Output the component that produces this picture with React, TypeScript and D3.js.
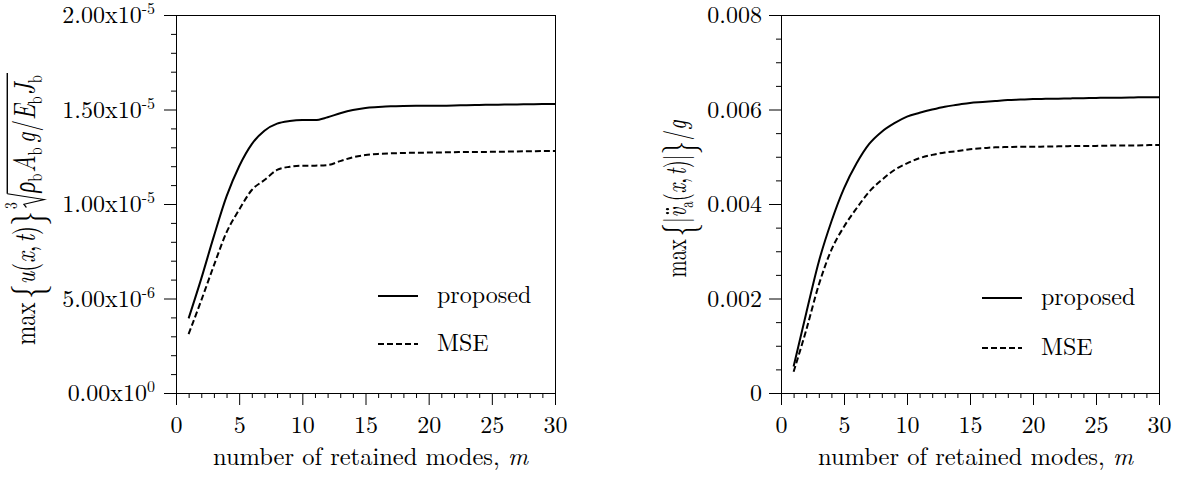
import React, { useRef, useEffect } from 'react';
import * as d3 from 'd3';

// number of retained modes
const modes = [1, 2, 3, 4, 5, 6, 7, 8, 9, 10, 11, 12, 13, 14, 15, 16, 17, 18, 19, 20, 21, 22, 23, 24, 25, 26, 27, 28, 29, 30];

// left panel: normalised max displacement, in units of 1e-6
const dispProposed = [3.95, 6.05, 8.3, 10.4, 12.0, 13.17, 13.88, 14.25, 14.39, 14.44, 14.44, 14.59, 14.8, 14.97, 15.08, 15.13, 15.17, 15.19, 15.2, 15.2, 15.2, 15.21, 15.23, 15.24, 15.25, 15.26, 15.27, 15.28, 15.29, 15.29];
const dispMSE = [3.12, 4.9, 6.75, 8.5, 9.7, 10.74, 11.27, 11.8, 11.97, 12.03, 12.03, 12.06, 12.27, 12.47, 12.59, 12.65, 12.68, 12.7, 12.71, 12.72, 12.73, 12.74, 12.75, 12.75, 12.76, 12.77, 12.78, 12.79, 12.8, 12.8];
const dispUnit = 1e-6;

// right panel: max acceleration / g, in units of 1e-3
const accProposed = [0.56, 1.69, 2.78, 3.63, 4.33, 4.86, 5.27, 5.53, 5.71, 5.85, 5.93, 6.0, 6.06, 6.1, 6.14, 6.16, 6.18, 6.2, 6.21, 6.22, 6.225, 6.23, 6.235, 6.24, 6.245, 6.25, 6.25, 6.255, 6.26, 6.26];
const accMSE = [0.45, 1.33, 2.29, 3.03, 3.52, 3.91, 4.26, 4.51, 4.72, 4.86, 4.97, 5.04, 5.09, 5.12, 5.16, 5.18, 5.2, 5.205, 5.21, 5.21, 5.215, 5.22, 5.225, 5.23, 5.23, 5.235, 5.24, 5.24, 5.245, 5.25];
const accUnit = 1e-3;

const xTicks = [0, 5, 10, 15, 20, 25, 30];
const dispTicks = [0, 5e-6, 1e-5, 1.5e-5, 2e-5];
const dispTickLabels = [['0.00x10', '0'], ['5.00x10', '-6'], ['1.00x10', '-5'], ['1.50x10', '-5'], ['2.00x10', '-5']];
const accTicks = [0, 0.002, 0.004, 0.006, 0.008];
const accTickLabels = ['0', '0.002', '0.004', '0.006', '0.008'];
const seriesNames = ['proposed', 'MSE'];
const xTitle = 'number of retained modes, ';

const FONT = '"Latin Modern Roman", "Liberation Serif", serif';
const FS = 24;
const MFS = 22; // formula font size
const DASH = '6,3';

type Piece = { t?: string; it?: boolean; size?: number; dy?: number; gap?: number; root?: boolean; dots?: boolean };

// lays out a little formula left to right, then rotates it to read bottom-up.
// the original axis labels are squeezed along the text, hence the two scales
function mathLabel(parent: any, pieces: Piece[], cx: number, cy: number, length: number, sy: number) {
  const g = parent.append('g');
  const inner = g.append('g').attr('fill', '#000');
  let x = 0;
  let rootStart: number | null = null;
  pieces.forEach(p => {
    x += p.gap ?? 0;
    if (p.root) {
      inner.append('path')
        .attr('d', `M${x},${-MFS * 0.28} L${x + 3},${-MFS * 0.36} L${x + 7.5},${MFS * 0.3} L${x + 13},${-MFS * 0.9}`)
        .attr('fill', 'none').attr('stroke', '#000').attr('stroke-width', 1);
      rootStart = x + 13;
      x += 14;
      return;
    }
    const t = inner.append('text')
      .attr('x', x).attr('y', p.dy ?? 0)
      .attr('font-size', p.size ?? MFS)
      .attr('font-style', p.it ? 'italic' : 'normal')
      .text(p.t!);
    const w = (t.node() as SVGTextElement).getComputedTextLength();
    if (p.dots) {
      [0.45, 0.85].forEach(f => {
        inner.append('circle').attr('cx', x + w * f).attr('cy', -MFS * 0.6).attr('r', 1.2);
      });
    }
    x += w;
  });
  if (rootStart !== null) {
    inner.append('line')
      .attr('x1', rootStart).attr('x2', x + 2)
      .attr('y1', -MFS * 0.9).attr('y2', -MFS * 0.9)
      .attr('stroke', '#000').attr('stroke-width', 1);
  }
  g.attr('transform', `translate(${cx},${cy}) rotate(-90) scale(${length / x},${sy})`);
  inner.attr('transform', `translate(${-x / 2},0)`);
}

function drawPanel(svg: any, o: any) {
  const x = d3.scaleLinear().domain([0, 30]).range([o.left, o.right]);
  const y = d3.scaleLinear().domain([0, o.yMax]).range([o.bottom, o.top]);
  const g = svg.append('g');

  const minorX = d3.range(0, 31).filter(v => v % 5 !== 0);
  g.append('g').attr('transform', `translate(0,${o.bottom})`)
    .call(d3.axisBottom(x).tickValues(minorX).tickSize(5).tickFormat(() => ''))
    .call((s: any) => s.select('.domain').remove());
  g.append('g').attr('transform', `translate(0,${o.bottom})`)
    .call(d3.axisBottom(x).tickValues(xTicks).tickSize(12).tickPadding(11).tickFormat(d3.format('d')))
    .call((s: any) => s.select('.domain').remove())
    .attr('font-family', null).attr('font-size', FS);

  const minorY = y.ticks(o.minorCount).filter((v: number) => !o.yTicks.some((t: number) => Math.abs(t - v) < o.yMax * 1e-6));
  g.append('g').attr('transform', `translate(${o.left},0)`)
    .call(d3.axisLeft(y).tickValues(minorY).tickSize(5).tickFormat(() => ''))
    .call((s: any) => s.select('.domain').remove());
  const yAxis = g.append('g').attr('transform', `translate(${o.left},0)`)
    .call(d3.axisLeft(y).tickValues(o.yTicks).tickSize(12).tickPadding(7)
      .tickFormat((_d: any, i: number) => (o.simpleLabels ? o.simpleLabels[i] : '')))
    .call((s: any) => s.select('.domain').remove())
    .attr('font-family', null).attr('font-size', FS);

  if (o.expLabels) {
    yAxis.selectAll('.tick').each(function (this: any, _d: any, i: number) {
      const t = d3.select(this).select('text').attr('x', -21).attr('dy', '0.32em');
      t.append('tspan').text(o.expLabels[i][0]);
      t.append('tspan').attr('font-size', 16).attr('dy', -9).text(o.expLabels[i][1]);
    });
  }

  // frame
  g.append('rect')
    .attr('x', o.left + 0.5).attr('y', o.top + 0.5)
    .attr('width', o.right - o.left).attr('height', o.bottom - o.top)
    .attr('fill', 'none').attr('stroke', '#000').attr('stroke-width', 1);

  const line = d3.line<number>()
    .x((_d, i) => x(modes[i]))
    .y(d => y(d * o.unit))
    .curve(d3.curveMonotoneX);

  g.append('path').datum(o.series[0]).attr('d', line)
    .attr('fill', 'none').attr('stroke', '#000').attr('stroke-width', 2);
  g.append('path').datum(o.series[1]).attr('d', line)
    .attr('fill', 'none').attr('stroke', '#000').attr('stroke-width', 2).attr('stroke-dasharray', DASH);

  // legend
  seriesNames.forEach((name, i) => {
    const ly = o.legendY[i];
    g.append('line')
      .attr('x1', o.legendX).attr('x2', o.legendX + 40)
      .attr('y1', ly).attr('y2', ly)
      .attr('stroke', '#000').attr('stroke-width', 2)
      .attr('stroke-dasharray', i === 1 ? DASH : null);
    g.append('text')
      .attr('x', o.legendX + 59).attr('y', ly + 7)
      .attr('font-size', FS)
      .text(name);
  });

  // x title
  const xt = g.append('text')
    .attr('x', o.titleX).attr('y', 465)
    .attr('font-size', 24.5);
  xt.append('tspan').text(xTitle);
  xt.append('tspan').attr('font-style', 'italic').text('m');
}

const App = () => {
  const svgRef = useRef<SVGSVGElement>(null);

  useEffect(() => {
    const svg = d3.select(svgRef.current);
    svg.selectAll('*').remove();

    drawPanel(svg, {
      left: 176, right: 555, top: 15, bottom: 393,
      yMax: 2e-5, yTicks: dispTicks, minorCount: 20, unit: dispUnit,
      expLabels: dispTickLabels,
      series: [dispProposed, dispMSE],
      legendX: 378, legendY: [296, 344], titleX: 213,
    });
    drawPanel(svg, {
      left: 781, right: 1159, top: 15, bottom: 393,
      yMax: 0.008, yTicks: accTicks, minorCount: 16, unit: accUnit,
      simpleLabels: accTickLabels,
      series: [accProposed, accMSE],
      legendX: 982, legendY: [298, 348], titleX: 818,
    });

    const big = MFS * 1.3;
    const sub = 14;
    mathLabel(svg, [
      { t: 'max' },
      { t: '{', size: big, dy: 4, gap: 3 },
      { t: 'u', it: true }, { t: '(' }, { t: 'x', it: true }, { t: ',' }, { t: 't', it: true, gap: 3 }, { t: ')' },
      { t: '}', size: big, dy: 4 },
      { t: '3', size: 13, dy: -13, gap: 2 },
      { root: true, gap: -5 },
      { t: 'ρ', it: true }, { t: 'b', size: sub, dy: 5 },
      { t: 'A', it: true, gap: 1 }, { t: 'b', size: sub, dy: 5 },
      { t: 'g', it: true, gap: 4 },
      { t: '/', gap: 1 },
      { t: 'E', it: true }, { t: 'b', size: sub, dy: 5 },
      { t: 'J', it: true, gap: 1 }, { t: 'b', size: sub, dy: 5 },
    ], 35, 210, 270, 1.4);

    mathLabel(svg, [
      { t: 'max' },
      { t: '{', size: big, dy: 4, gap: 3 },
      { t: '|' },
      { t: 'v', it: true, dots: true }, { t: 'a', size: sub, dy: 5 },
      { t: '(' }, { t: 'x', it: true }, { t: ',' }, { t: 't', it: true, gap: 3 }, { t: ')' },
      { t: '|' },
      { t: '}', size: big, dy: 4 },
      { t: '/', gap: 1 },
      { t: 'g', it: true },
    ], 686, 199, 157, 1.4);
  }, []);

  return (
    <svg ref={svgRef} width={1181} height={486}
      style={{ position: 'absolute', left: 0, top: 0, background: '#fff', fontFamily: FONT }} />
  );
};

export default App;
